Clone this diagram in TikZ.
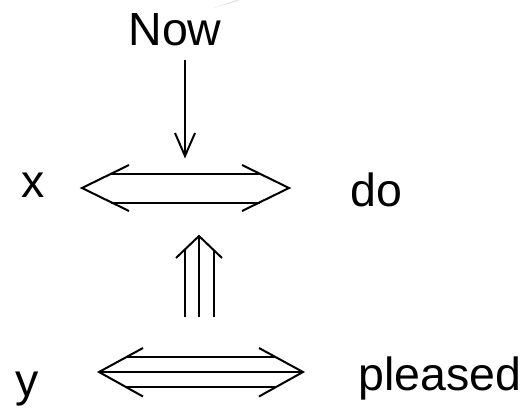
\documentclass[tikz,border=0pt]{standalone}
\usepackage{fontspec}
\setmainfont{Liberation Sans}
\begin{document}
\begin{tikzpicture}[x=1pt,y=-1pt,
  lbl/.style={inner sep=0pt,anchor=base,font=\fontsize{46.5}{56}\selectfont},
  stroke/.style={line width=2pt,line cap=butt,line join=miter}]
\useasboundingbox (0,0) rectangle (528,408);
% labels
\node[lbl] (now) at (175,45) {Now};
\node[lbl] (x) at (33.5,197) {x};
\node[lbl] (do) at (376.5,206) {do};
\node[lbl] (y) at (27.5,396) {y};
\node[lbl] (pl) at (440,390) {pleased};
% faint stroke
\fill[gray!25] (212,8.5) -- (238,-0.5) -- (238,0.8) -- cycle;
% down arrow from Now
\coordinate (nowtop) at (185,60);
\coordinate (nowtip) at (185,156);
\draw[stroke] (nowtop) -- (nowtip);
\draw[stroke] (175,133) -- (nowtip) -- (195,133);
% top double arrow
\coordinate (tL) at (82,188);
\coordinate (tR) at (289,188);
\draw[stroke] (129,165) -- (tL) -- (129,211);
\draw[stroke] (242,165) -- (tR) -- (242,211);
\draw[stroke] (111,174) -- (260,174);
\draw[stroke] (111,202.5) -- (260,202.5);
% triple arrow up
\coordinate (uptip) at (199,236);
\coordinate (upbase) at (199,317);
\draw[stroke] (upbase) -- (uptip);
\draw[stroke] (185,317) -- (185,249.5);
\draw[stroke] (213.5,317) -- (213.5,249.5);
\draw[stroke] (176,258) -- (uptip) -- (222,258);
% bottom triple-line arrow
\coordinate (bL) at (99,372);
\coordinate (bR) at (303,372);
\draw[stroke] (143,348) -- (bL) -- (143,396.5);
\draw[stroke] (259,348) -- (bR) -- (259,396.5);
\draw[stroke] (bL) -- (bR);
\draw[stroke] (126,357) -- (276,357);
\draw[stroke] (126,387) -- (276,387);
\end{tikzpicture}
\end{document}
